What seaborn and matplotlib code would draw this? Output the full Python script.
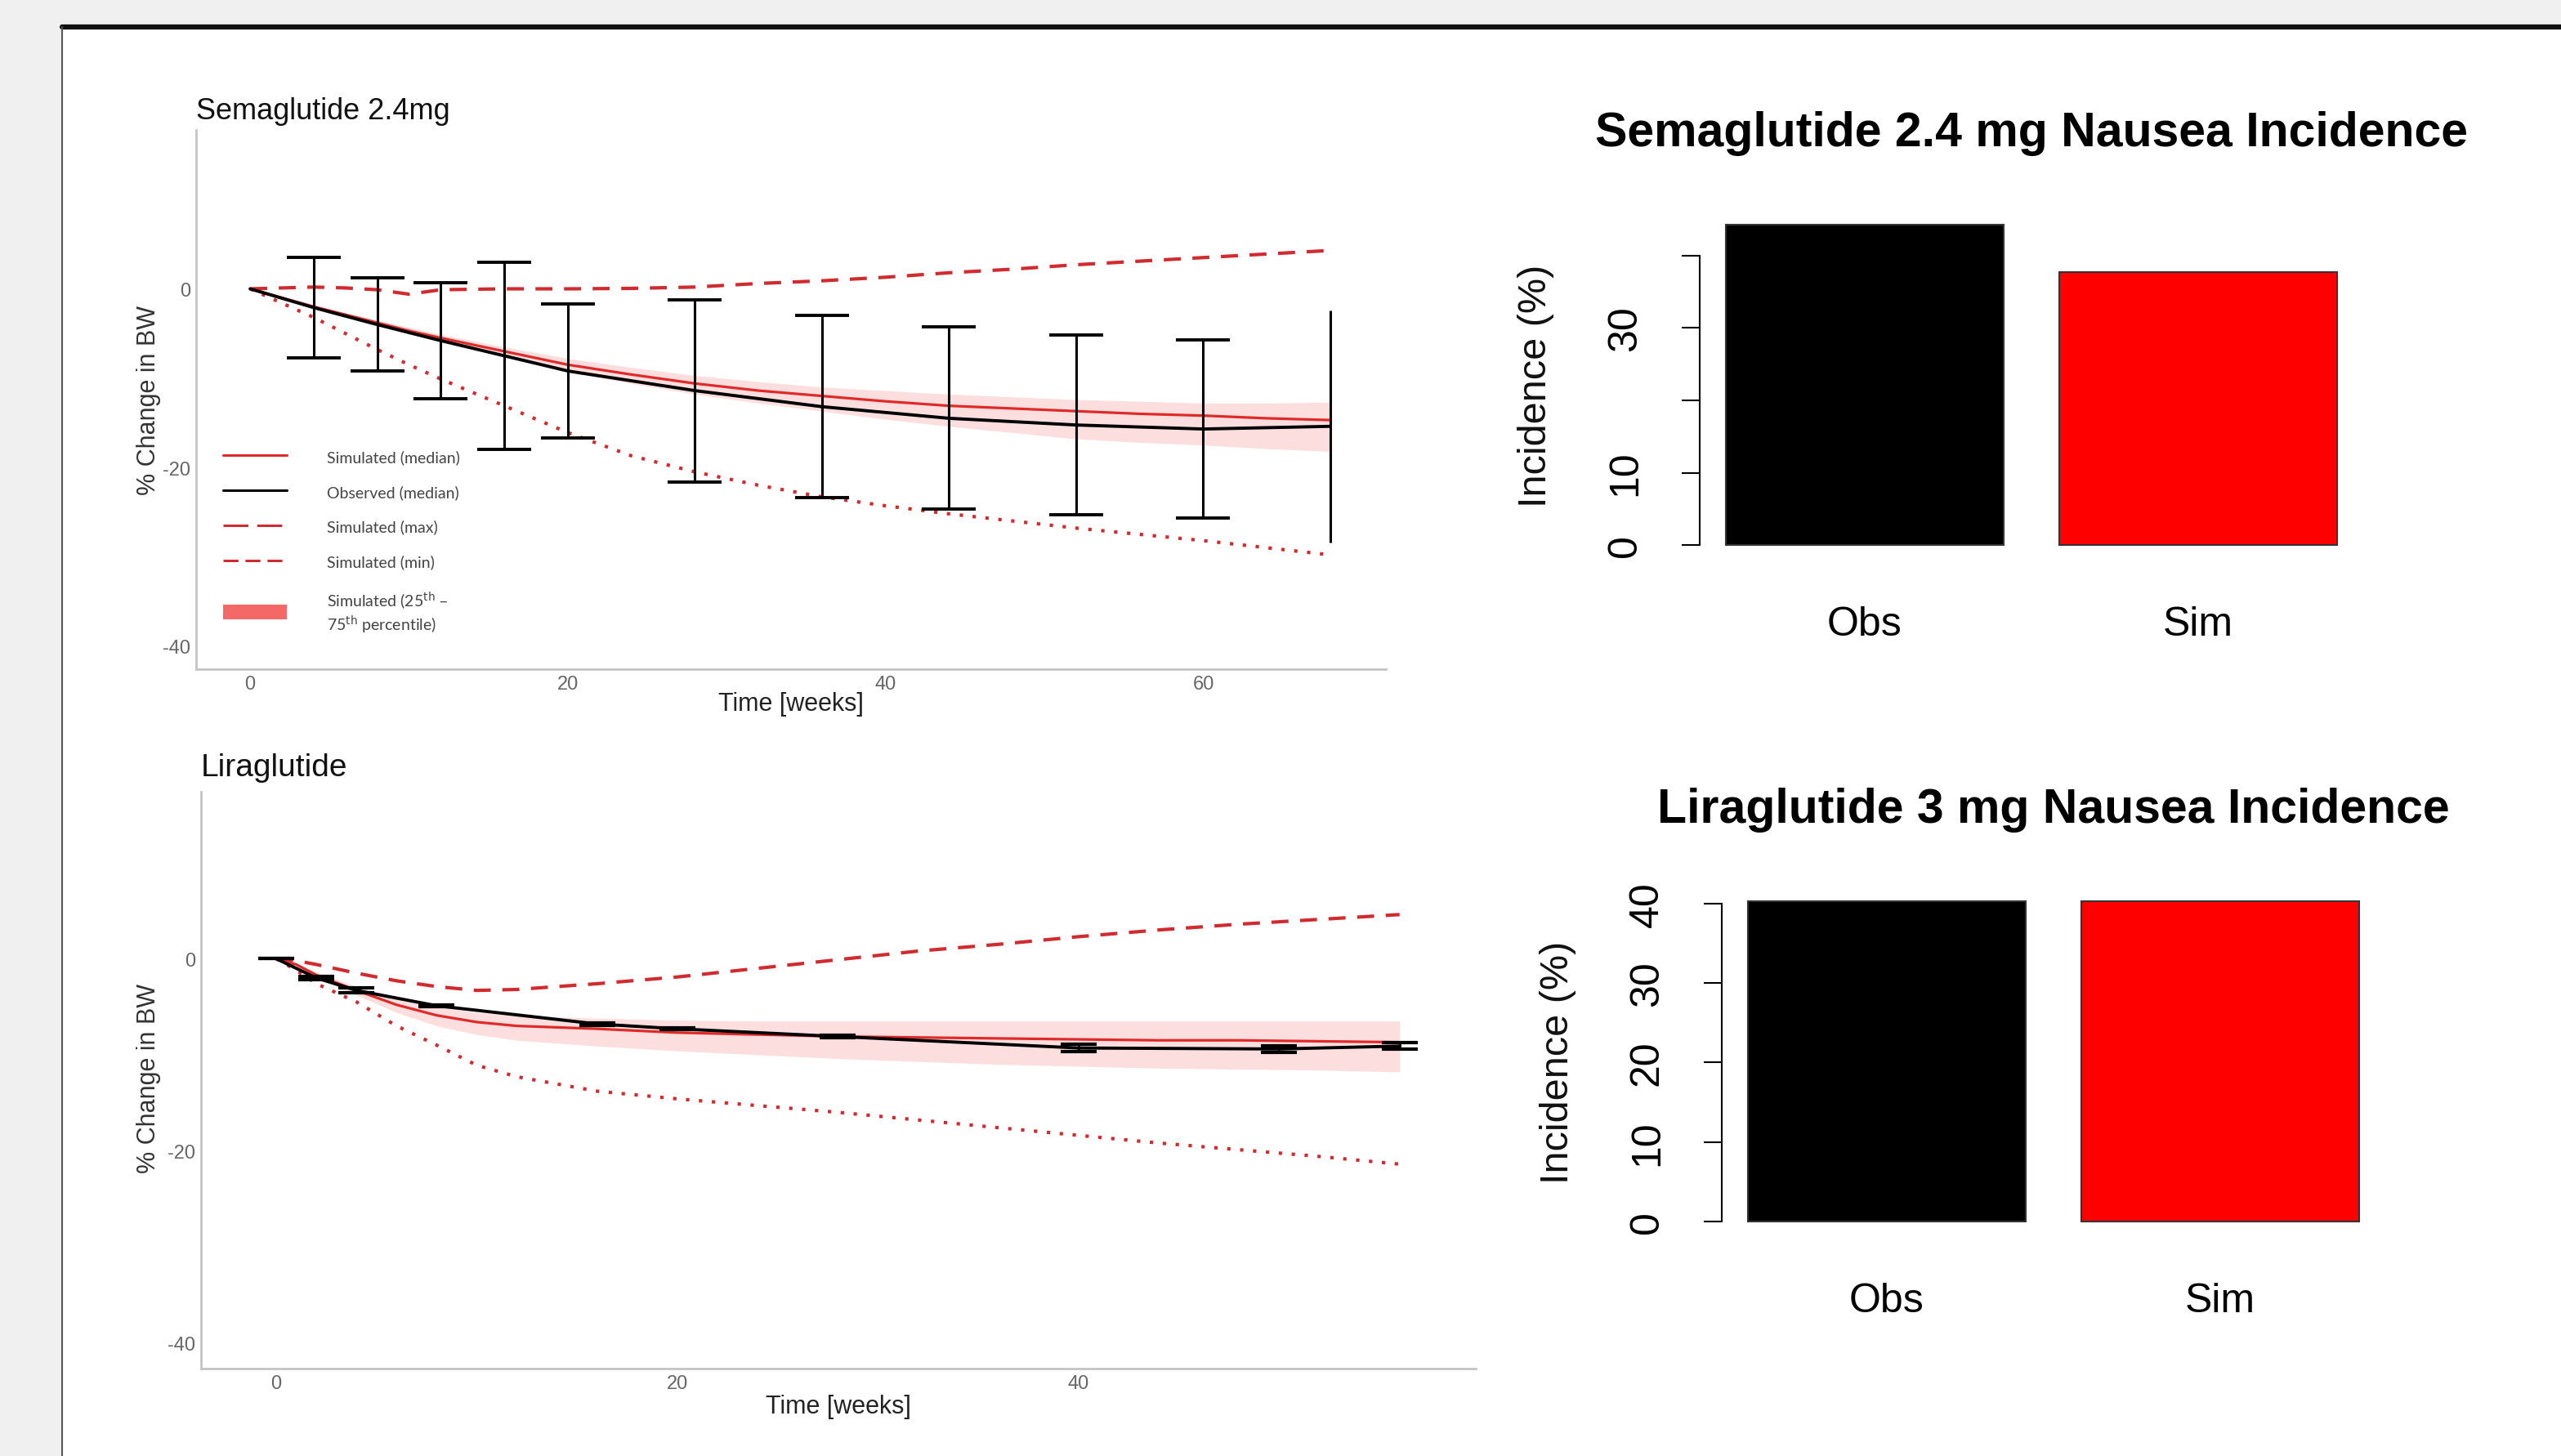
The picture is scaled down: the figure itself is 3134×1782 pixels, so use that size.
import numpy as np
import pandas as pd
import seaborn as sns
import matplotlib.pyplot as plt
from matplotlib.lines import Line2D
from matplotlib.patches import Patch, Rectangle

# ---- Semaglutide 2.4 mg body weight (% change) ----
sema_sim_weeks = [0, 2, 4, 6, 8, 10, 12, 16, 20, 24, 28, 32, 36, 40, 44, 48, 52, 56, 60, 64, 68]
sema_sim_median = [0, -1.0, -2.0, -2.9, -3.8, -4.7, -5.5, -7.0, -8.5, -9.6, -10.6, -11.4, -12.0,
                   -12.6, -13.1, -13.4, -13.7, -14.0, -14.2, -14.5, -14.7]
sema_sim_q75 = [0, -0.9, -1.8, -2.7, -3.5, -4.3, -5.1, -6.5, -7.8, -8.8, -9.7, -10.4, -11.0,
                -11.4, -11.8, -12.1, -12.4, -12.6, -12.8, -12.8, -12.7]
sema_sim_q25 = [0, -1.1, -2.2, -3.2, -4.1, -5.0, -5.9, -7.6, -9.3, -10.6, -11.8, -12.8, -13.7,
                -14.6, -15.4, -16.1, -16.8, -17.2, -17.5, -17.9, -18.2]
sema_sim_max = [0, 0.1, 0.2, 0.1, -0.1, -0.6, -0.1, 0, 0, 0.05, 0.2, 0.6, 0.9,
                1.3, 1.8, 2.2, 2.7, 3.1, 3.5, 3.9, 4.3]
sema_sim_min = [0, -1.6, -3.2, -5.0, -6.8, -8.5, -10.1, -13.1, -16.1, -18.7, -20.5, -22.0, -23.3,
                -24.3, -25.2, -26.0, -26.8, -27.5, -28.2, -29.0, -29.8]
sema_obs_weeks = [0, 4, 8, 12, 16, 20, 28, 36, 44, 52, 60, 68]
sema_obs_mean = [0, -2.1, -4.0, -5.8, -7.5, -9.2, -11.4, -13.2, -14.5, -15.25, -15.7, -15.4]
sema_obs_sd = [0, 5.6, 5.2, 6.5, 10.5, 7.5, 10.2, 10.2, 10.2, 10.05, 10.0, 13.0]

# ---- Liraglutide body weight (% change) ----
lira_sim_weeks = [0, 1, 2, 4, 6, 8, 10, 12, 16, 20, 24, 28, 32, 36, 40, 44, 48, 52, 56]
lira_sim_median = [0, -0.6, -1.7, -3.3, -4.8, -5.9, -6.6, -7.0, -7.3, -7.7, -7.9, -8.1, -8.2,
                   -8.3, -8.4, -8.5, -8.5, -8.6, -8.7]
lira_sim_q75 = [0, -0.5, -1.4, -2.9, -4.1, -5.0, -5.6, -5.9, -6.2, -6.4, -6.5, -6.5, -6.5,
                -6.5, -6.5, -6.5, -6.5, -6.5, -6.5]
lira_sim_q25 = [0, -0.7, -2.0, -3.8, -5.6, -7.0, -7.9, -8.5, -9.1, -9.6, -10.0, -10.4, -10.7,
                -11.0, -11.2, -11.4, -11.5, -11.6, -11.8]
lira_sim_max = [0, -0.2, -0.6, -1.5, -2.3, -2.9, -3.3, -3.2, -2.6, -1.9, -1.0, -0.1, 0.8,
                1.5, 2.3, 3.0, 3.6, 4.1, 4.6]
lira_sim_min = [0, -1.2, -2.6, -4.5, -7.0, -9.0, -11.1, -12.3, -13.8, -14.6, -15.3, -16.0, -16.8,
                -17.6, -18.4, -19.2, -19.9, -20.6, -21.4]
lira_obs_weeks = [0, 2, 4, 8, 16, 20, 28, 40, 50, 56]
lira_obs_mean = [0, -2.0, -3.3, -4.9, -6.8, -7.3, -8.1, -9.3, -9.4, -9.1]
lira_obs_sd = [0, 0.15, 0.25, 0.1, 0.15, 0.1, 0.1, 0.4, 0.35, 0.35]

# ---- Nausea incidence (%) ----
groups = ['Obs', 'Sim']
sema_nausea = [44.3, 37.7]
lira_nausea = [40.3, 40.3]

legend_labels = ['Simulated (median)', 'Observed (median)', 'Simulated (max)', 'Simulated (min)',
                 'Simulated (25$^{\\mathrm{th}}$ –\n75$^{\\mathrm{th}}$ percentile)']

RED = '#e02a2a'
RED_DARK = '#d02c30'
BAND = '#fcdede'

sns.set_style('white')
plt.rcParams['font.family'] = ['Liberation Sans', 'DejaVu Sans']
plt.rcParams['axes.unicode_minus'] = False
plt.rcParams['text.color'] = 'black'
plt.rcParams['xtick.color'] = 'black'
plt.rcParams['ytick.color'] = 'black'

W, H = 3134, 1783
fig = plt.figure(figsize=(W / 100, H / 100), dpi=100, facecolor='#f0f0f0')

# white slide panel with borders
fig.add_artist(Rectangle((76 / W, 0), 1, (H - 34) / H, transform=fig.transFigure,
                         facecolor='white', edgecolor='none', zorder=0))
fig.add_artist(Line2D([76 / W, 1], [(H - 34) / H] * 2, transform=fig.transFigure,
                      color='#111111', lw=4.5))
fig.add_artist(Line2D([76 / W] * 2, [0, (H - 34) / H], transform=fig.transFigure,
                      color='#555555', lw=1.5))


def px_axes(left, top, width, height):
    return fig.add_axes([left / W, (H - top - height) / H, width / W, height / H])


def style_line_axes(ax, xticks):
    sns.despine(ax=ax)
    for s in ['left', 'bottom']:
        ax.spines[s].set_color('#c4c4c4')
        ax.spines[s].set_linewidth(2)
    ax.set_xticks(xticks)
    ax.set_yticks([-40, -20, 0])
    ax.tick_params(length=0, labelsize=17, labelcolor='#666666', pad=5)
    ax.set_xlabel('')
    ax.set_ylabel('')
    ax.set_facecolor('none')


def draw_sim(ax, weeks, median, q25, q75, smax, smin):
    ax.fill_between(weeks, q25, q75, color=BAND, lw=0, zorder=1)
    sns.lineplot(x=weeks, y=smax, ax=ax, color=RED_DARK, lw=3.0, linestyle=(0, (5, 3.4)),
                 errorbar=None, sort=False, zorder=2)
    sns.lineplot(x=weeks, y=smin, ax=ax, color=RED_DARK, lw=3.0, linestyle=(0, (1, 2.8)),
                 errorbar=None, sort=False, zorder=2)
    sns.lineplot(x=weeks, y=median, ax=ax, color=RED, lw=2.3, errorbar=None, sort=False, zorder=3)


# ---------------- Semaglutide time course ----------------
ax1 = px_axes(240, 160, 1456, 660)
draw_sim(ax1, sema_sim_weeks, sema_sim_median, sema_sim_q25, sema_sim_q75, sema_sim_max, sema_sim_min)
sns.lineplot(x=sema_obs_weeks, y=sema_obs_mean, ax=ax1, color='black', lw=2.8,
             errorbar=None, sort=False, zorder=4)
ax1.errorbar(sema_obs_weeks[1:-1], sema_obs_mean[1:-1], yerr=sema_obs_sd[1:-1], fmt='none',
             ecolor='black', elinewidth=2.2, capsize=24, capthick=2.8, zorder=5)
ax1.errorbar(sema_obs_weeks[-1:], sema_obs_mean[-1:], yerr=sema_obs_sd[-1:], fmt='none',
             ecolor='black', elinewidth=2.2, capsize=0, zorder=5)
ax1.set_xlim(-3.4, 71.5)
ax1.set_ylim(-42.6, 17.8)
style_line_axes(ax1, [0, 20, 40, 60])
ax1.text(0, 1.036, 'Semaglutide 2.4mg', transform=ax1.transAxes, fontsize=26,
         ha='left', va='center', color='#111111')
ax1.text(0.5, -0.064, 'Time [weeks]', transform=ax1.transAxes, fontsize=22,
         ha='center', va='center', color='#222222')
ax1.text(-0.040, 0.5, '% Change in BW', transform=ax1.transAxes, fontsize=22, rotation=90,
         ha='center', va='center', color='#333333')

handles = [Line2D([], [], color=RED, lw=2.2),
           Line2D([], [], color='black', lw=2.2),
           Line2D([], [], color=RED_DARK, lw=2.2, linestyle=(0, (10, 3.5))),
           Line2D([], [], color=RED_DARK, lw=2.2, linestyle=(0, (6, 2.8))),
           Patch(facecolor='#f46868', edgecolor='none')]
ax1.legend(handles, legend_labels, loc='upper left', bbox_to_anchor=(0.023, 0.409),
           frameon=False, borderpad=0, borderaxespad=0, handlelength=4.0, handleheight=1.05,
           handletextpad=2.5, labelspacing=1.25,
           prop={'family': ['Lato', 'DejaVu Sans'], 'size': 14}, labelcolor='#444444')

# ---------------- Liraglutide time course ----------------
ax2 = px_axes(246, 970, 1560, 706)
draw_sim(ax2, lira_sim_weeks, lira_sim_median, lira_sim_q25, lira_sim_q75, lira_sim_max, lira_sim_min)
sns.lineplot(x=lira_obs_weeks, y=lira_obs_mean, ax=ax2, color='black', lw=2.8,
             errorbar=None, sort=False, zorder=4)
ax2.errorbar(lira_obs_weeks, lira_obs_mean, yerr=lira_obs_sd, fmt='none', ecolor='black',
             elinewidth=2, capsize=15.5, capthick=3, zorder=5)
ax2.set_xlim(-3.75, 59.8)
ax2.set_ylim(-42.7, 17.4)
style_line_axes(ax2, [0, 20, 40])
ax2.text(0, 1.042, 'Liraglutide', transform=ax2.transAxes, fontsize=28,
         ha='left', va='center', color='#111111')
ax2.text(0.5, -0.065, 'Time [weeks]', transform=ax2.transAxes, fontsize=22,
         ha='center', va='center', color='#222222')
ax2.text(-0.041, 0.504, '% Change in BW', transform=ax2.transAxes, fontsize=22, rotation=90,
         ha='center', va='center', color='#333333')


# ---------------- Nausea bar charts ----------------
def bar_panel(ax, values, title, ticklabels):
    df = pd.DataFrame({'group': groups, 'incidence': values})
    sns.barplot(data=df, x='group', y='incidence', hue='group', palette=['black', '#ff0000'],
                saturation=1, width=0.833, edgecolor='#333333', linewidth=1.5, legend=False, ax=ax)
    top = max(values)
    ax.set_ylim(-0.04 * top, 1.04 * top)
    ax.set_xlim(-0.495, 1.495)
    sns.despine(ax=ax, bottom=True)
    ax.spines['left'].set_bounds(0, 40)
    ax.spines['left'].set_linewidth(1.5)
    ax.spines['left'].set_color('black')
    ax.set_yticks([0, 10, 20, 30, 40])
    ax.set_yticklabels(ticklabels, rotation=90, va='center')
    ax.tick_params(axis='y', length=16, width=1.5, pad=33, labelsize=36, left=True,
                   color='black', labelcolor='black')
    ax.tick_params(axis='x', length=0, pad=42, labelsize=36, labelcolor='black')
    ax.set_xlabel('')
    ax.set_ylabel('')
    ax.set_facecolor('none')
    ax.text(0.5, 1.227, title, transform=ax.transAxes, fontsize=42.5, fontweight='bold',
            ha='center', va='center', color='black')
    ax.text(-0.247, 0.5, 'Incidence (%)', transform=ax.transAxes, fontsize=35, rotation=90,
            ha='center', va='center', color='#111111')


ax3 = px_axes(2080, 260, 812, 424)
bar_panel(ax3, sema_nausea, 'Semaglutide 2.4 mg Nausea Incidence', ['0', '10', '', '30', ''])

ax4 = px_axes(2107, 1088, 812, 424)
bar_panel(ax4, lira_nausea, 'Liraglutide 3 mg Nausea Incidence', ['0', '10', '20', '30', '40'])

fig.savefig('out.png', dpi=100, facecolor=fig.get_facecolor())
